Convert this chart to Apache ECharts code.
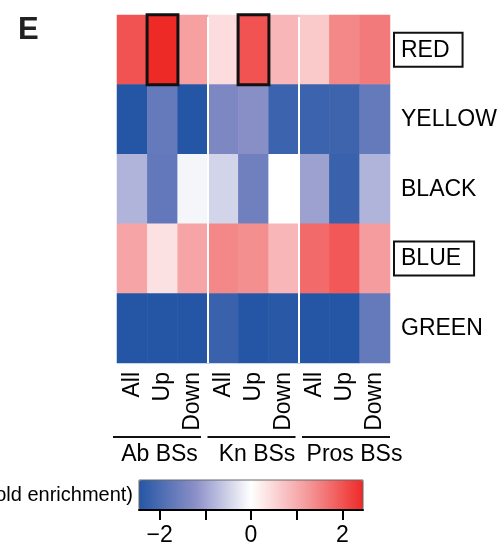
<!DOCTYPE html>
<html>
<head>
<meta charset="utf-8">
<script src="https://cdn.jsdelivr.net/npm/echarts@6/dist/echarts.min.js"></script>
<style>
  html, body { margin: 0; padding: 0; background: #fff; }
  #chart { width: 502px; height: 544px; }
</style>
</head>
<body>
<div id="chart"></div>
<script>
// Binding-site sets and the subsets shown for each
const groups = ['Ab BSs', 'Kn BSs', 'Pros BSs'];
const subsets = ['All', 'Up', 'Down'];

// Co-expression modules (rows, top to bottom) and those marked with a box
const modules = ['RED', 'YELLOW', 'BLACK', 'BLUE', 'GREEN'];
const boxedModules = ['RED', 'BLUE'];

// log2 fold enrichment per module, columns: Ab All/Up/Down, Kn All/Up/Down, Pros All/Up/Down
const redValues    = [2.0, 2.45, 1.15, 0.42, 2.0, 0.88, 0.64, 1.42, 1.58];
const yellowValues = [-2.45, -1.68, -2.45, -1.38, -1.25, -2.17, -2.17, -2.15, -1.68];
const blackValues  = [-0.82, -1.71, -0.1, -0.47, -1.54, 0.0, -1.03, -2.2, -0.82];
const blueValues   = [1.1, 0.36, 1.1, 1.42, 1.35, 0.88, 1.75, 1.95, 1.2];
const greenValues  = [-2.45, -2.45, -2.45, -2.2, -2.45, -2.4, -2.45, -2.45, -1.68];

// Cells outlined in black: [column index, module]
const outlinedCells = [[1, 'RED'], [4, 'RED']];

// Colour scale
const scaleMin = -2.45;
const scaleMax = 2.45;
const scaleTicks = [-2, -1, 0, 1, 2];
const scaleTickLabels = [-2, 0, 2];
const scaleTitle = 'log2(fold enrichment)';

const FONT = '"Liberation Sans", Arial, Helvetica, sans-serif';
const LABEL_SIZE = 23;
const INK = '#000';

const columns = [];
groups.forEach(g => subsets.forEach(s => columns.push(g + '|' + s)));

const rowValues = [redValues, yellowValues, blackValues, blueValues, greenValues];
const plain = [];
const outlined = [];
rowValues.forEach((vals, r) => {
  vals.forEach((v, c) => {
    const isOutlined = outlinedCells.some(o => o[0] === c && o[1] === modules[r]);
    if (isOutlined) {
      outlined.push({ value: [c, r, v], itemStyle: { borderColor: '#111', borderWidth: 3 } });
    } else {
      plain.push([c, r, v]);
    }
  });
});

const chart = echarts.init(document.getElementById('chart'), null, { renderer: 'canvas' });

chart.setOption({
  animation: false,
  backgroundColor: '#fff',
  textStyle: { fontFamily: FONT },
  grid: [
    { left: 117, top: 15, width: 273, height: 348, containLabel: false, outerBoundsMode: 'none' },
    {
      left: 139, top: 480, width: 224, height: 30, containLabel: false, outerBoundsMode: 'none',
      show: true, borderColor: '#666', borderWidth: 1, backgroundColor: 'transparent', z: 10
    }
  ],
  xAxis: [
    {
      gridIndex: 0,
      type: 'category',
      data: columns,
      position: 'bottom',
      axisLine: { show: false },
      axisTick: { show: false },
      splitLine: { show: false },
      axisLabel: {
        rotate: 90,
        margin: 9,
        fontSize: LABEL_SIZE,
        color: INK,
        fontFamily: FONT,
        interval: 0,
        formatter: v => v.split('|')[1]
      }
    },
    {
      gridIndex: 1,
      type: 'value',
      min: scaleMin,
      max: scaleMax,
      position: 'bottom',
      z: 10,
      axisLine: { show: true, onZero: false, lineStyle: { color: '#000', width: 2 } },
      axisTick: { show: true, customValues: scaleTicks, length: 10, lineStyle: { color: '#000', width: 2 } },
      splitLine: { show: false },
      axisLabel: {
        customValues: scaleTickLabels,
        margin: 14,
        fontSize: LABEL_SIZE,
        color: INK,
        fontFamily: FONT,
        formatter: v => (v < 0 ? '\u2212' + Math.abs(v) : String(v))
      }
    }
  ],
  yAxis: [
    {
      gridIndex: 0,
      type: 'category',
      data: modules,
      inverse: true,
      position: 'right',
      axisLine: { show: false },
      axisTick: { show: false },
      splitLine: { show: false },
      axisLabel: {
        margin: 4,
        interval: 0,
        formatter: v => (boxedModules.includes(v) ? '{box|' + v + '}' : '{plain|' + v + '}'),
        rich: {
          box: {
            fontSize: LABEL_SIZE, fontFamily: FONT, color: INK, lineHeight: 24,
            borderColor: '#111', borderWidth: 2, padding: [6, 13, 5, 7]
          },
          plain: {
            fontSize: LABEL_SIZE, fontFamily: FONT, color: INK, lineHeight: 24,
            padding: [6, 13, 5, 7]
          }
        }
      }
    },
    { gridIndex: 1, type: 'value', show: false, min: 0, max: 1 }
  ],
  visualMap: {
    type: 'continuous',
    seriesIndex: 0,
    min: scaleMin,
    max: scaleMax,
    orient: 'horizontal',
    left: 139,
    top: 480,
    itemWidth: 30,
    itemHeight: 224,
    padding: 0,
    calculable: false,
    hoverLink: false,
    text: null,
    showLabel: false,
    inRange: { color: ['#2556A5', '#8A8FC7', '#FFFFFF', '#F59A9C', '#EE2A27'] }
  },
  series: [{
    type: 'heatmap',
    xAxisIndex: 0,
    yAxisIndex: 0,
    data: plain.concat(outlined),
    emphasis: { disabled: true },
    progressive: 0
  }]
});

// Separators, group brackets and annotation text placed from the axis scales
const colX = i => chart.convertToPixel({ xAxisIndex: 0 }, i);
const rowY = i => chart.convertToPixel({ yAxisIndex: 0 }, i);
const colW = colX(1) - colX(0);
const rowH = rowY(1) - rowY(0);
const rowTop = rowY(0) - rowH / 2;
const rowBottom = rowY(modules.length - 1) + rowH / 2;
const heatLeft = colX(0) - colW / 2;

const graphics = [];
for (let g = 1; g < groups.length; g++) {
  const x = colX(g * subsets.length) - colW / 2;
  graphics.push({
    type: 'line', z: 20,
    shape: { x1: x, y1: rowTop + 2, x2: x, y2: rowBottom },
    style: { stroke: '#fff', lineWidth: 2 }
  });
}

// Group brackets sit on a slightly wider pitch than the column groups
const bracketY = rowBottom + 74;
const bracketLen = colW * subsets.length - 3;
const bracketStep = colW * subsets.length + 3.5;
groups.forEach((name, g) => {
  const x1 = heatLeft - 4 + g * bracketStep;
  const x2 = x1 + bracketLen;
  graphics.push({
    type: 'line',
    shape: { x1: x1, y1: bracketY, x2: x2, y2: bracketY },
    style: { stroke: '#111', lineWidth: 2 }
  });
  graphics.push({
    type: 'text',
    x: (x1 + x2) / 2 + 2.5 + g * 3,
    y: bracketY + 18,
    style: { text: name, font: LABEL_SIZE + 'px ' + FONT, fill: INK, align: 'center', verticalAlign: 'middle' }
  });
});

const barLeft = chart.convertToPixel({ xAxisIndex: 1 }, scaleMin);
const barMid = chart.convertToPixel({ yAxisIndex: 1 }, 0.5);
graphics.push({
  type: 'text',
  x: barLeft - 6,
  y: barMid,
  style: { text: scaleTitle, font: '20px ' + FONT, fill: INK, align: 'right', verticalAlign: 'middle' }
});
graphics.push({
  type: 'text',
  x: 18,
  y: 15,
  style: { text: 'E', font: 'bold 31px ' + FONT, fill: '#222', align: 'left', verticalAlign: 'top' }
});

chart.setOption({ graphic: graphics });
</script>
</body>
</html>
